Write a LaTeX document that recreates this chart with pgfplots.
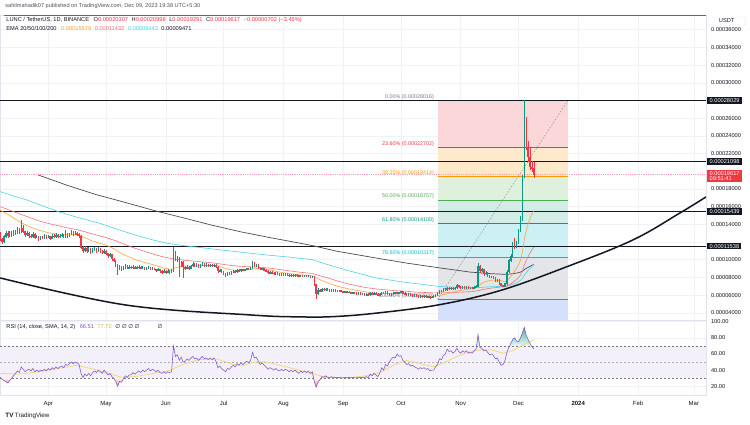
\documentclass[border=0pt]{standalone}
\usepackage{pgfplots}
\usepackage{pgfplotstable}
\pgfplotsset{compat=1.18}
\usepackage{fontspec}
\setmainfont{Liberation Sans}
\newfontfamily\djv{DejaVu Sans}
\definecolor{txt}{HTML}{131722}
\definecolor{sub}{HTML}{50535E}
\definecolor{gridc}{HTML}{F0F2F6}
\definecolor{framec}{HTML}{E0E3EB}
\definecolor{up}{HTML}{089981}
\definecolor{dn}{HTML}{F23645}
\definecolor{emaA}{HTML}{F9A63A}
\definecolor{emaB}{HTML}{F2727B}
\definecolor{emaC}{HTML}{4DD3E6}
\definecolor{emaD}{HTML}{4A4D57}
\definecolor{rsi}{HTML}{7E57C2}
\definecolor{rsima}{HTML}{F2D66B}
\definecolor{rsiband}{HTML}{F3F0FA}
\definecolor{fibA}{HTML}{FCD7DA}
\definecolor{fibB}{HTML}{FEE9CB}
\definecolor{fibC}{HTML}{DFF0DD}
\definecolor{fibD}{HTML}{D4ECE6}
\definecolor{fibE}{HTML}{CDF0F5}
\definecolor{fibF}{HTML}{E4E5E8}
\definecolor{fibG}{HTML}{D5E0FC}
\definecolor{lvA}{HTML}{787B86}
\definecolor{lvB}{HTML}{F23645}
\definecolor{lvC}{HTML}{FF9800}
\definecolor{lvD}{HTML}{4CAF50}
\definecolor{lvE}{HTML}{089981}
\definecolor{lvF}{HTML}{00BCD4}
\newcommand\fT{\fontsize{5.7}{5.9}\selectfont}
\newcommand\fS{\fontsize{5.4}{6}\selectfont}
\newcommand\fH{\fontsize{5.6}{6.2}\selectfont}
\newcommand\fX{\fontsize{6}{7}\selectfont}

\pgfplotstableread{
d o h l c
65 12.9 13.1 12.1 12.3
66 12.3 12.5 11.8 12.0
67 12.0 12.8 11.9 12.6
68 12.6 13.2 12.5 13.0
69 13.0 13.2 12.5 12.7
70 12.7 13.3 12.6 13.1
71 13.1 13.3 12.6 12.8
72 12.8 13.4 12.7 13.2
73 13.2 13.4 12.8 13.0
74 13.0 13.7 12.9 13.4
75 13.4 13.6 12.9 13.1
76 13.1 14.5 13.0 13.6
77 13.6 13.9 13.0 13.2
78 13.2 13.3 12.6 12.8
79 12.8 13.2 12.7 13.0
80 13.0 13.1 12.5 12.7
81 12.7 12.9 12.4 12.6
82 12.6 13.1 12.5 12.9
83 12.9 13.0 12.3 12.5
84 12.5 12.8 12.4 12.6
85 12.6 12.7 12.1 12.3
86 12.3 12.7 12.2 12.5
87 12.5 12.7 12.3 12.4
88 12.4 12.9 12.3 12.7
89 12.7 12.8 12.3 12.5
90 12.5 12.8 12.4 12.6
91 12.6 12.7 12.2 12.4
92 12.4 12.9 12.3 12.7
93 12.7 12.9 12.5 12.6
94 12.6 13.0 12.5 12.8
95 12.8 12.9 12.4 12.6
96 12.6 12.9 12.5 12.7
97 12.7 13.0 12.6 12.8
98 12.8 12.9 12.4 12.6
99 12.6 13.4 12.5 12.9
100 12.9 13.0 12.5 12.7
101 12.7 13.0 12.6 12.9
102 12.9 13.4 12.8 13.1
103 13.1 13.2 12.7 12.9
104 12.9 13.2 12.8 13.0
105 13.0 13.1 12.7 12.9
106 12.9 13.0 12.5 12.7
107 12.7 12.8 11.2 11.4
108 11.4 11.6 10.8 11.0
109 11.0 11.5 10.9 11.3
110 11.3 11.4 10.8 11.0
111 11.0 11.4 10.9 11.2
112 11.2 11.3 10.7 10.9
113 10.9 11.3 10.8 11.1
114 11.1 11.4 11.0 11.2
115 11.2 11.3 10.8 11.0
116 11.0 11.4 10.9 11.2
117 11.2 11.3 10.8 11.0
118 11.0 11.1 10.6 10.8
119 10.8 11.2 10.7 11.0
120 11.0 11.1 10.5 10.7
121 10.7 10.8 10.2 10.4
122 10.4 10.8 10.3 10.6
123 10.6 10.7 9.9 10.1
124 10.1 10.2 9.7 9.9
125 9.9 10.0 9.2 9.4
126 9.4 9.5 8.3 8.9
127 8.9 9.4 8.8 9.2
128 9.2 9.3 8.7 8.9
129 8.9 9.3 8.8 9.1
130 9.1 9.5 9.0 9.3
131 9.3 9.4 8.9 9.0
132 9.0 9.4 8.9 9.2
133 9.2 9.3 8.9 9.1
134 9.1 9.4 9.0 9.2
135 9.2 9.3 8.9 9.0
136 9.0 9.3 8.9 9.1
137 9.1 9.4 9.0 9.2
138 9.2 9.3 8.9 9.0
139 9.0 9.3 8.9 9.1
140 9.1 9.2 8.8 8.9
141 8.9 9.2 8.8 9.0
142 9.0 9.3 8.9 9.1
143 9.1 9.2 8.8 8.9
144 8.9 9.2 8.8 9.0
145 9.0 9.1 8.8 8.9
146 8.9 9.0 8.6 8.8
147 8.8 9.1 8.7 8.9
148 8.9 9.0 8.5 8.7
149 8.7 8.8 8.4 8.6
150 8.6 8.9 8.5 8.7
151 8.7 8.8 8.4 8.6
152 8.6 8.9 8.5 8.7
153 8.7 8.8 8.4 8.6
154 8.6 8.9 8.5 8.7
155 8.7 11.4 8.6 10.9
156 10.9 11.0 9.8 9.9
157 9.9 10.4 9.7 10.2
158 10.2 10.3 8.0 9.4
159 9.4 9.9 9.2 9.7
160 9.7 9.8 7.9 9.2
161 9.2 9.3 8.8 9.0
162 9.0 9.4 8.9 9.2
163 9.2 9.3 8.8 9.0
164 9.0 9.4 8.9 9.3
165 9.3 9.7 9.2 9.5
166 9.5 9.6 9.2 9.3
167 9.3 9.6 9.2 9.4
168 9.4 9.5 9.1 9.2
169 9.2 9.5 9.1 9.4
170 9.4 9.7 9.3 9.5
171 9.5 9.6 9.2 9.3
172 9.3 9.6 9.2 9.4
173 9.4 9.5 9.2 9.3
174 9.3 9.5 9.2 9.4
175 9.4 9.5 9.2 9.3
176 9.3 9.5 9.2 9.4
177 9.4 9.5 9.1 9.2
178 9.2 9.3 8.5 8.7
179 8.7 8.9 8.6 8.8
180 8.8 8.9 8.5 8.6
181 8.6 8.7 8.3 8.4
182 8.4 8.5 8.1 8.3
183 8.3 8.6 8.2 8.5
184 8.5 8.6 8.3 8.4
185 8.4 8.7 8.3 8.6
186 8.6 8.8 8.5 8.7
187 8.7 8.8 8.5 8.6
188 8.6 8.9 8.5 8.8
189 8.8 8.9 8.6 8.7
190 8.7 9.0 8.6 8.9
191 8.9 9.0 8.7 8.8
192 8.8 9.0 8.7 8.9
193 8.9 9.1 8.8 9.0
194 9.0 9.1 8.8 8.9
195 8.9 9.2 8.8 9.1
196 9.1 9.9 9.0 9.6
197 9.6 9.7 9.2 9.3
198 9.3 9.5 9.2 9.4
199 9.4 9.5 9.0 9.1
200 9.1 9.2 8.8 8.9
201 8.9 9.1 8.8 9.0
202 9.0 9.1 8.7 8.8
203 8.8 8.9 8.6 8.7
204 8.7 8.8 8.4 8.5
205 8.5 8.7 8.4 8.6
206 8.6 8.7 8.4 8.5
207 8.5 8.6 8.3 8.4
208 8.4 8.6 8.3 8.5
209 8.5 8.6 8.3 8.4
210 8.4 8.5 8.2 8.3
211 8.3 8.5 8.2 8.4
212 8.4 8.5 8.2 8.3
213 8.3 8.5 8.2 8.4
214 8.4 8.5 8.2 8.3
215 8.3 8.4 8.1 8.2
216 8.2 8.4 8.1 8.3
217 8.3 8.4 8.1 8.2
218 8.2 8.4 8.1 8.3
219 8.3 8.4 8.1 8.2
220 8.2 8.3 8.0 8.1
221 8.1 8.3 8.0 8.2
222 8.2 8.3 8.0 8.1
223 8.1 8.3 8.0 8.2
224 8.2 8.3 8.0 8.1
225 8.1 8.25 8.0 8.15
226 8.15 8.2 7.9 8.0
227 8.0 8.2 7.9 8.1
228 8.1 8.2 7.0 7.2
229 7.2 7.3 5.6 6.2
230 6.2 6.8 6.0 6.6
231 6.6 6.7 6.3 6.4
232 6.4 6.8 6.3 6.7
233 6.7 6.8 6.5 6.6
234 6.6 6.8 6.5 6.7
235 6.7 6.8 6.5 6.6
236 6.6 6.7 6.4 6.5
237 6.5 6.7 6.4 6.6
238 6.6 6.7 6.4 6.5
239 6.5 6.65 6.4 6.55
240 6.55 6.6 6.3 6.4
241 6.4 6.6 6.3 6.5
242 6.5 6.6 6.3 6.4
243 6.4 6.5 6.2 6.3
244 6.3 6.5 6.2 6.4
245 6.4 6.5 6.2 6.3
246 6.3 6.45 6.2 6.35
247 6.35 6.4 6.1 6.2
248 6.2 6.4 6.1 6.3
249 6.3 6.4 6.1 6.2
250 6.2 6.3 6.0 6.1
251 6.1 6.3 6.0 6.2
252 6.2 6.3 6.0 6.1
253 6.1 6.25 6.0 6.15
254 6.15 6.2 5.9 6.0
255 6.0 6.2 5.9 6.1
256 6.1 6.2 5.9 6.0
257 6.0 6.3 5.9 6.2
258 6.2 6.3 6.0 6.1
259 6.1 6.3 6.0 6.2
260 6.2 6.3 6.0 6.1
261 6.1 6.2 5.9 6.0
262 6.0 6.2 5.9 6.1
263 6.1 6.4 6.0 6.3
264 6.3 6.4 6.1 6.2
265 6.2 6.5 6.1 6.4
266 6.4 6.5 6.0 6.1
267 6.1 6.2 5.9 6.0
268 6.0 6.2 5.9 6.1
269 6.1 6.3 6.0 6.2
270 6.2 6.4 6.1 6.3
271 6.3 6.4 6.1 6.2
272 6.2 6.4 6.1 6.3
273 6.3 6.5 6.2 6.4
274 6.4 6.5 6.1 6.2
275 6.2 6.3 6.0 6.1
276 6.1 6.2 5.9 6.0
277 6.0 6.2 5.9 6.1
278 6.1 6.2 5.9 6.0
279 6.0 6.1 5.8 5.9
280 5.9 6.1 5.8 6.0
281 6.0 6.1 5.8 5.9
282 5.9 6.0 5.7 5.8
283 5.8 6.0 5.7 5.9
284 5.9 6.0 5.7 5.8
285 5.8 6.0 5.7 5.9
286 5.9 6.0 5.7 5.8
287 5.8 5.95 5.7 5.85
288 5.85 5.9 5.6 5.75
289 5.75 5.9 5.65 5.8
290 5.8 6.0 5.7 5.9
291 5.9 6.1 5.8 6.0
292 6.0 6.3 5.9 6.2
293 6.2 6.6 6.1 6.5
294 6.5 6.6 6.3 6.4
295 6.4 6.8 6.3 6.7
296 6.7 6.8 6.5 6.6
297 6.6 6.9 6.5 6.8
298 6.8 6.9 6.6 6.7
299 6.7 6.9 6.6 6.8
300 6.8 6.9 6.6 6.7
301 6.7 6.9 6.6 6.8
302 6.8 7.3 6.7 7.1
303 7.1 7.2 6.8 6.9
304 6.9 7.0 6.7 6.8
305 6.8 7.0 6.7 6.9
306 6.9 7.0 6.7 6.8
307 6.8 7.0 6.7 6.9
308 6.9 7.0 6.7 6.8
309 6.8 6.95 6.7 6.85
310 6.85 6.9 6.7 6.8
311 6.8 7.0 6.7 6.9
312 6.9 7.1 6.8 7.0
313 7.0 9.6 6.9 9.3
314 9.3 9.4 8.5 8.7
315 8.7 9.1 8.6 8.9
316 8.9 9.0 8.2 8.4
317 8.4 8.7 8.3 8.5
318 8.5 8.6 8.1 8.2
319 8.2 8.3 7.9 8.0
320 8.0 8.2 7.9 8.1
321 8.1 8.2 7.8 7.9
322 7.9 8.0 7.5 7.6
323 7.6 7.8 7.5 7.7
324 7.7 7.8 7.2 7.3
325 7.3 7.4 7.0 7.1
326 7.1 7.2 6.9 7.0
327 7.0 7.4 6.9 7.3
328 7.3 8.8 7.2 8.6
329 8.6 10.1 8.5 9.9
330 9.9 10.6 9.7 10.4
331 10.4 12.0 10.3 11.8
332 11.8 12.4 11.2 11.5
333 11.5 12.1 11.3 11.9
334 11.9 13.5 11.8 13.3
335 13.3 14.9 13.1 14.6
336 14.6 19.6 14.4 19.4
337 19.4 28.016 19.2 25.9
338 25.9 26.1 22.4 22.7
339 22.7 23.4 21.1 21.6
340 21.6 22.7 20.1 20.5
341 20.5 21.2 19.9 20.307
342 20.307 20.998 19.291 19.617
}\candles

\begin{document}
\begin{tikzpicture}[x=1bp,y=1bp]
\fill[white] (0,0) rectangle (750,425);

% ---------------- price pane ----------------
\begin{axis}[
  at={(0bp,105bp)}, anchor=south west, scale only axis,
  width=706bp, height=305bp,
  xmin=65.1, xmax=431.3, ymin=3.2, ymax=37.66,
  xtick={90,120,151,181,212,243,273,304,334,365,396,425}, xticklabels={},
  ytick={4,6,8,10,12,14,16,18,22,24,26,30,32,34,36},
  yticklabels={0.00004000,0.00006000,0.00008000,0.00010000,{},0.00014000,0.00016000,0.00018000,0.00022000,0.00024000,0.00026000,0.00030000,0.00032000,0.00034000,0.00036000},
  ytick pos=right, yticklabel pos=right, xtick pos=bottom, major tick length=0pt,
  grid=major, major grid style={draw=gridc, line width=0.5bp},
  axis line style={draw=framec, line width=0.5bp},
  yticklabel style={font=\fT, text=txt, anchor=west, xshift=1.5bp},
]
% fib zones
\addplot[fill=fibA, draw=none] coordinates {(292,28.016)(359.7,28.016)(359.7,22.702)(292,22.702)} -- cycle;
\addplot[fill=fibB, draw=none] coordinates {(292,22.702)(359.7,22.702)(359.7,19.414)(292,19.414)} -- cycle;
\addplot[fill=fibC, draw=none] coordinates {(292,19.414)(359.7,19.414)(359.7,16.757)(292,16.757)} -- cycle;
\addplot[fill=fibD, draw=none] coordinates {(292,16.757)(359.7,16.757)(359.7,14.100)(292,14.100)} -- cycle;
\addplot[fill=fibE, draw=none] coordinates {(292,14.100)(359.7,14.100)(359.7,10.317)(292,10.317)} -- cycle;
\addplot[fill=fibF, draw=none] coordinates {(292,10.317)(359.7,10.317)(359.7,5.500)(292,5.500)} -- cycle;
\addplot[fill=fibG, draw=none] coordinates {(292,5.500)(359.7,5.500)(359.7,2.0)(292,2.0)} -- cycle;
% fib level lines
\addplot[lvA, line width=0.5bp] coordinates {(292,28.016)(359.7,28.016)};
\addplot[lvB, line width=0.5bp] coordinates {(292,22.702)(359.7,22.702)};
\addplot[lvC, line width=0.5bp] coordinates {(292,19.414)(359.7,19.414)};
\addplot[lvD, line width=0.5bp] coordinates {(292,16.757)(359.7,16.757)};
\addplot[lvE, line width=0.5bp] coordinates {(292,14.100)(359.7,14.100)};
\addplot[lvF, line width=0.5bp] coordinates {(292,10.317)(359.7,10.317)};
\addplot[lvA, line width=0.5bp] coordinates {(292,5.500)(359.7,5.500)};
% fib labels
\node[anchor=south east, font=\fS, text=lvA, inner sep=0.8bp] at (axis cs:290.6,28.016) {0.00\% (0.00028016)};
\node[anchor=south east, font=\fS, text=lvB, inner sep=0.8bp] at (axis cs:290.6,22.702) {23.60\% (0.00022702)};
\node[anchor=south east, font=\fS, text=lvC, inner sep=0.8bp] at (axis cs:290.6,19.414) {38.20\% (0.00019414)};
\node[anchor=south east, font=\fS, text=lvD, inner sep=0.8bp] at (axis cs:290.6,16.757) {50.00\% (0.00016757)};
\node[anchor=south east, font=\fS, text=lvE, inner sep=0.8bp] at (axis cs:290.6,14.100) {61.80\% (0.00014100)};
\node[anchor=south east, font=\fS, text=lvF, inner sep=0.8bp] at (axis cs:290.6,10.317) {78.60\% (0.00010317)};
\node[anchor=south east, font=\fS, text=lvA, inner sep=0.8bp] at (axis cs:290.6,5.500) {100.00\% (0.00005500)};
% fib trend line
\addplot[black!45, line width=0.45bp, dash pattern=on 1.6bp off 1.6bp] coordinates {(292,5.5)(359.7,28.016)};
% horizontal levels
\addplot[txt, line width=0.9bp] coordinates {(65.1,28.029)(431.3,28.029)};
\addplot[txt, line width=0.9bp] coordinates {(65.1,21.098)(431.3,21.098)};
\addplot[txt, line width=0.9bp] coordinates {(65.1,15.439)(431.3,15.439)};
\addplot[txt, line width=0.9bp] coordinates {(65.1,11.538)(431.3,11.538)};
% current price line
\addplot[dn!45, line width=0.4bp, dash pattern=on 0.8bp off 1bp] coordinates {(65.1,19.617)(431.3,19.617)};
% EMA 200
\addplot[emaD, line width=0.7bp] coordinates {(84.8,19.58)(100,18.4)(115,17.35)(127,16.65)(146,15.5)(158,14.85)(175,13.9)(190,13.15)(205,12.5)(215,12.1)(227,11.6)(240,10.95)(260,10.2)(275,9.65)(293,9.08)(309,8.6)(320,8.42)(327,8.35)(329,8.37)(331,8.42)(333,8.49)(334,8.54)(335,8.6)(336,8.71)(337,8.88)(338,9.02)(339,9.14)(340,9.26)(341,9.37)(342,9.47)};
% EMA 100
\addplot[emaC, line width=0.6bp] coordinates {(65.1,17.7)(72,17.2)(79,16.75)(87,16.1)(95,15.45)(105,14.8)(117,14.1)(125,13.5)(135,12.8)(145,12.2)(152,11.85)(160,11.6)(170,11.35)(180,11.1)(190,10.85)(205,10.5)(215,10.3)(227,10.0)(235,9.45)(246,8.75)(260,7.95)(275,7.45)(293,6.98)(305,6.85)(313,6.85)(320,6.95)(327,7.0)(328,7.03)(329,7.08)(330,7.14)(331,7.23)(332,7.31)(333,7.4)(334,7.52)(335,7.66)(336,7.89)(337,8.25)(338,8.53)(339,8.79)(340,9.02)(341,9.25)(342,9.44)};
% EMA 50
\addplot[emaB, line width=0.6bp] coordinates {(65.1,16.0)(70,15.6)(75,15.2)(80,14.8)(85,14.4)(90,14.1)(95,13.85)(100,13.6)(105,13.4)(110,13.1)(115,12.8)(120,12.5)(125,12.15)(130,11.7)(135,11.3)(140,10.95)(145,10.6)(150,10.3)(155,10.1)(160,9.95)(165,9.85)(170,9.75)(175,9.65)(180,9.5)(185,9.35)(190,9.25)(195,9.2)(200,9.15)(205,9.05)(210,8.9)(215,8.75)(220,8.6)(227,8.45)(230,8.25)(235,7.95)(240,7.6)(245,7.3)(250,7.05)(255,6.85)(260,6.7)(265,6.6)(270,6.5)(275,6.45)(280,6.35)(285,6.3)(290,6.25)(295,6.25)(300,6.3)(305,6.35)(310,6.4)(313,6.5)(316,6.65)(320,6.8)(324,6.9)(327,6.95)(328,7.02)(329,7.13)(330,7.26)(331,7.44)(332,7.6)(333,7.77)(334,7.99)(335,8.25)(336,8.69)(337,9.37)(338,9.9)(339,10.36)(340,10.76)(341,11.14)(342,11.43)};
% EMA 20
\addplot[emaA, line width=0.6bp] coordinates {(65.1,15.6)(70,15.0)(75,14.3)(80,13.75)(85,13.35)(90,13.05)(95,12.9)(100,12.8)(105,12.85)(108,12.6)(112,12.2)(116,11.9)(120,11.65)(124,11.25)(128,10.7)(132,10.3)(136,9.95)(140,9.7)(145,9.4)(150,9.05)(154,8.9)(156,9.1)(160,9.3)(165,9.3)(170,9.35)(177,9.35)(180,9.15)(185,8.85)(190,8.8)(195,8.9)(199,9.05)(205,8.85)(210,8.6)(215,8.45)(220,8.3)(227,8.2)(229,7.95)(232,7.65)(236,7.3)(240,7.0)(245,6.75)(250,6.55)(255,6.35)(260,6.2)(265,6.2)(270,6.2)(275,6.2)(280,6.05)(285,5.95)(290,5.85)(293,5.95)(297,6.15)(302,6.45)(307,6.65)(312,6.8)(313,7.04)(316,7.46)(320,7.70)(324,7.67)(327,7.53)(328,7.63)(329,7.85)(330,8.09)(331,8.44)(332,8.73)(333,9.03)(334,9.44)(335,9.93)(336,10.83)(337,12.26)(338,13.26)(339,14.05)(340,14.66)(341,15.2)(342,15.58)};
% candles: wicks
\addplot[draw=none, mark=none, forget plot,
  restrict expr to domain={\thisrow{c}-\thisrow{o}}{0:100},
  error bars/.cd, y dir=both, y explicit, error mark=none,
  error bar style={draw=up, line width=0.45bp}]
  table[x=d, y expr={(\thisrow{h}+\thisrow{l})/2}, y error expr={(\thisrow{h}-\thisrow{l})/2}] {\candles};
\addplot[draw=none, mark=none, forget plot,
  restrict expr to domain={\thisrow{c}-\thisrow{o}}{-100:-0.00001},
  error bars/.cd, y dir=both, y explicit, error mark=none,
  error bar style={draw=dn, line width=0.45bp}]
  table[x=d, y expr={(\thisrow{h}+\thisrow{l})/2}, y error expr={(\thisrow{h}-\thisrow{l})/2}] {\candles};
% candles: bodies
\addplot[draw=none, mark=none, forget plot,
  restrict expr to domain={\thisrow{c}-\thisrow{o}}{0:100},
  error bars/.cd, y dir=both, y explicit, error mark=none,
  error bar style={draw=up, line width=1.4bp}]
  table[x=d, y expr={(\thisrow{o}+\thisrow{c})/2}, y error expr={abs(\thisrow{c}-\thisrow{o})/2+0.03}] {\candles};
\addplot[draw=none, mark=none, forget plot,
  restrict expr to domain={\thisrow{c}-\thisrow{o}}{-100:-0.00001},
  error bars/.cd, y dir=both, y explicit, error mark=none,
  error bar style={draw=dn, line width=1.4bp}]
  table[x=d, y expr={(\thisrow{o}+\thisrow{c})/2}, y error expr={abs(\thisrow{c}-\thisrow{o})/2+0.03}] {\candles};
% rounded support curve
\addplot[txt, line width=1.5bp, smooth, tension=0.6] coordinates {(65.1,7.94)(130,4.89)(194.8,3.76)(220.7,3.54)(237.8,3.57)(259.6,3.95)(292.3,4.89)(324.4,6.51)(359.2,9.22)(393.4,12.24)(417.8,15.29)(431.3,17.1)};
\coordinate (L1) at (axis cs:431.3,28.029);
\coordinate (L2) at (axis cs:431.3,21.098);
\coordinate (L3) at (axis cs:431.3,15.439);
\coordinate (L4) at (axis cs:431.3,11.538);
\coordinate (L5) at (axis cs:431.3,19.617);
\end{axis}

% ---------------- RSI pane ----------------
\begin{axis}[
  at={(0bp,30bp)}, anchor=south west, scale only axis,
  width=706bp, height=75bp,
  xmin=65.1, xmax=431.3, ymin=9.36, ymax=102.2,
  xtick={90,120,151,181,212,243,273,304,334,365,396,425},
  xticklabels={Apr,May,Jun,Jul,Aug,Sep,Oct,Nov,Dec,{\bfseries 2024},Feb,Mar},
  ytick={20,40,60,80,100}, yticklabels={20.00,40.00,60.00,80.00,100.00},
  ytick pos=right, yticklabel pos=right, xtick pos=bottom, major tick length=0pt,
  grid=major, major grid style={draw=gridc, line width=0.5bp},
  axis line style={draw=framec, line width=0.5bp},
  yticklabel style={font=\fT, text=txt, anchor=west, xshift=1.5bp},
  xticklabel style={font=\fX, text=txt, yshift=-2.5bp},
]
\addplot[fill=rsiband, draw=none] coordinates {(65.1,30)(431.3,30)(431.3,70)(65.1,70)} -- cycle;
\addplot[lvA, line width=0.45bp, dash pattern=on 2bp off 2bp] coordinates {(65.1,70)(431.3,70)};
\addplot[lvA!60, line width=0.45bp, dash pattern=on 2bp off 2bp] coordinates {(65.1,50)(431.3,50)};
\addplot[lvA, line width=0.45bp, dash pattern=on 2bp off 2bp] coordinates {(65.1,30)(431.3,30)};
% overbought / oversold fills
\addplot[draw=none, top color=up!75, bottom color=up!8] coordinates {(329.4,70)(330,73)(331,78)(332,80)(333,76)(334,75)(335,80)(336,86)(337,93)(338,83)(339,78)(340,73)(340.75,70)} -- cycle;
\addplot[draw=none, top color=up!60, bottom color=up!8] coordinates {(312.22,70)(313,84)(313.875,70)} -- cycle;
\addplot[draw=none, top color=dn!8, bottom color=dn!60] coordinates {(227.67,30)(228,26)(229,19)(230,25)(231,28)(231.5,30)} -- cycle;
\addplot[draw=none, top color=dn!8, bottom color=dn!60] coordinates {(124,30)(125,26)(126,20)(127,26)(128,25)(129,29)(129.25,30)} -- cycle;
\addplot[draw=none, top color=dn!8, bottom color=dn!50] coordinates {(65.55,30)(66,29)(67,27)(68,26)(69,24)(70,27)(71,30)} -- cycle;
% RSI-based MA
\addplot[rsima, line width=0.7bp] coordinates {(65.1,36)(75,35)(85,38)(95,42)(105,46)(112,42)(120,37)(128,31)(135,32)(145,36)(152,39)(160,47)(168,53)(177,54)(185,48)(190,45)(197,50)(203,50)(210,46)(220,40)(228,35)(235,30.5)(245,30.5)(255,33)(262,37)(270,47)(276,52)(283,48)(290,44)(296,50)(302,57)(308,62)(314,65)(320,65)(326,61)(330,63)(334,68)(338,73)(342,77.7)};
% RSI
\addplot[rsi, line width=0.55bp] coordinates {(65.1,31)(66,29)(67,27)(68,26)(69,24)(70,27)(71,30)(72,33)(73,36)(74,39)(75,37)(76,44)(77,41)(78,38)(79,40)(80,41)(81,39)(82,42)(83,38)(84,40)(85,38)(86,40)(87,39)(88,41)(89,39)(90,42)(91,40)(92,43)(93,41)(94,44)(95,42)(96,44)(97,45)(98,43)(99,47)(100,46)(101,48)(102,50)(103,48)(104,50)(105,49)(106,47)(107,36)(108,31)(109,35)(110,33)(111,36)(112,33)(113,37)(114,39)(115,37)(116,40)(117,38)(118,36)(119,40)(120,37)(121,34)(122,36)(123,32)(124,30)(125,26)(126,20)(127,26)(128,25)(129,29)(130,33)(131,31)(132,34)(133,34)(134,37)(135,35)(136,37)(137,39)(138,37)(139,40)(140,38)(141,40)(142,42)(143,39)(144,41)(145,40)(146,38)(147,40)(148,37)(149,36)(150,38)(151,36)(152,38)(153,37)(154,38)(155,70)(156,57)(157,59)(158,52)(159,56)(160,50)(161,51)(162,54)(163,52)(164,55)(165,57)(166,54)(167,55)(168,52)(169,55)(170,57)(171,54)(172,55)(173,53)(174,55)(175,53)(176,55)(177,51)(178,43)(179,45)(180,42)(181,40)(182,38)(183,42)(184,41)(185,44)(186,46)(187,44)(188,48)(189,46)(190,49)(191,47)(192,49)(193,51)(194,49)(195,52)(196,62)(197,55)(198,56)(199,51)(200,47)(201,49)(202,46)(203,44)(204,41)(205,43)(206,42)(207,40)(208,42)(209,40)(210,39)(211,41)(212,39)(213,41)(214,40)(215,38)(216,40)(217,38)(218,40)(219,38)(220,36)(221,39)(222,37)(223,39)(224,37)(225,39)(226,36)(227,38)(228,26)(229,19)(230,25)(231,28)(232,32)(233,31)(234,33)(235,31)(236,30.5)(237,32)(238,30.5)(239,31)(240,30.5)(241,31)(242,30.5)(243,30.5)(244,31)(245,30.5)(246,31)(247,30.5)(248,31)(249,30.5)(250,30.5)(251,31)(252,30.5)(253,31)(254,30.5)(255,32)(256,30.5)(257,35)(258,33)(259,36)(260,34)(261,32)(262,36)(263,43)(264,40)(265,47)(266,45)(267,50)(268,54)(269,56)(270,55)(271,60)(272,57)(273,58)(274,52)(275,50)(276,47)(277,48)(278,45)(279,46)(280,44)(281,43)(282,41)(283,43)(284,42)(285,43)(286,41)(287,42)(288,39)(289,40)(290,40)(291,44)(292,47)(293,54)(294,53)(295,58)(296,60)(297,66)(298,63)(299,64)(300,61)(301,63)(302,67)(303,63)(304,61)(305,64)(306,62)(307,64)(308,61)(309,62)(310,61)(311,64)(312,66)(313,84)(314,68)(315,67)(316,64)(317,65)(318,62)(319,59)(320,60)(321,58)(322,54)(323,55)(324,50)(325,46)(326,47)(327,52)(328,62)(329,68)(330,73)(331,78)(332,80)(333,76)(334,75)(335,80)(336,86)(337,93)(338,83)(339,78)(340,73)(341,69)(342,66.5)};
\end{axis}

% ---------------- overlays ----------------
\draw[black!60, line width=0.7bp] (4,410) -- (706,410);
\node[anchor=west, font=\fH, text=sub, inner sep=0] at (5,418.5) {sahilmahadik07 published on TradingView.com, Dec 09, 2023 19:38 UTC+5:30};
\node[anchor=west, font=\fT, text=txt, inner sep=0] at (6,404.5) {LUNC / TetherUS, 1D, BINANCE\hspace{3bp} O\textcolor{dn}{0.00020307}\hspace{2bp} H\textcolor{dn}{0.00020998}\hspace{2bp} L\textcolor{dn}{0.00019291}\hspace{2bp} C\textcolor{dn}{0.00019617}\hspace{2bp} \textcolor{dn}{−0.00000702 (−3.45\%)}};
\node[anchor=west, font=\fT, text=txt, inner sep=0] at (6,396.5) {EMA 20/50/100/200\hspace{3bp} \textcolor{emaA}{0.00015579}\hspace{2bp} \textcolor{emaB}{0.00011432}\hspace{2bp} \textcolor{emaC}{0.00009443}\hspace{2bp} 0.00009471};
\node[anchor=west, font=\fT, text=txt, inner sep=0] at (6,98) {RSI (14, close, SMA, 14, 2)\hspace{3bp} \textcolor{rsi}{66.51}\hspace{2bp} \textcolor{rsima!85!black}{77.72}\hspace{2bp} {\djv ∅\hspace{1.5bp}∅\hspace{1.5bp}∅\hspace{1.5bp}∅\hspace{18bp}∅}};
% USDT box
\node[anchor=west, font=\fT, text=txt, fill=white, draw=framec, rounded corners=1bp, inner xsep=3bp, inner ysep=2bp, minimum width=37bp, align=left] at (708,404) {USDT};
% price labels on the scale
\node[anchor=west, fill=txt, text=white, font=\fT, inner xsep=2.2bp, inner ysep=1.3bp] at ([xshift=1.2bp]L1) {0.00028029};
\node[anchor=west, fill=txt, text=white, font=\fT, inner xsep=2.2bp, inner ysep=1.3bp] at ([xshift=1.2bp]L2) {0.00021098};
\node[anchor=west, fill=txt, text=white, font=\fT, inner xsep=2.2bp, inner ysep=1.3bp] at ([xshift=1.2bp]L3) {0.00015439};
\node[anchor=west, fill=txt, text=white, font=\fT, inner xsep=2.2bp, inner ysep=1.3bp] at ([xshift=1.2bp]L4) {0.00011538};
\node[anchor=north west, fill=dn, text=white, font=\fT, align=left, inner xsep=2.2bp, inner ysep=1.2bp] at ([xshift=1.2bp, yshift=5bp]L5) {0.00019617\\09:51:41};
% logo
\node[anchor=west, font=\fontsize{6.3}{7}\selectfont, text=txt, inner sep=0] at (5,9) {{\bfseries TV}\hspace{1.5bp}TradingView};
\end{tikzpicture}
\end{document}
